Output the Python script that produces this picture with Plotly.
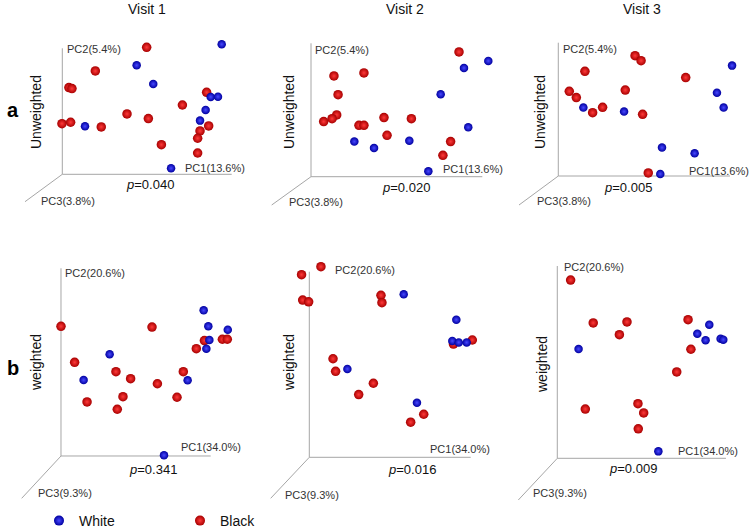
import plotly.graph_objects as go

# ---------------- data (PC1, PC2 scores scaled to 0-100 along drawn axes) ----------------
# Unweighted UniFrac, Visit 1
unw_v1_black_pc1 = [49.8, 19.5, 3.9, 5.7, 85.2, 70.9, 38.2, 50.8, -0.2, 4.9, 23.0, 86.4, 81.3, 79.9, 58.5, 79.9]
unw_v1_black_pc2 = [100.8, 82.0, 68.8, 68.0, 65.1, 55.0, 47.9, 44.2, 40.2, 41.3, 37.6, 38.4, 34.4, 28.6, 23.5, 16.9]
unw_v1_white_pc1 = [94.1, 43.9, 53.7, 87.6, 91.9, 84.6, 81.3, 13.4, 64.2]
unw_v1_white_pc2 = [103.2, 86.5, 71.7, 61.4, 61.6, 51.1, 42.6, 38.1, 4.8]
# Unweighted, Visit 2
unw_v2_black_pc1 = [86.4, 13.4, 30.9, 15.8, 15.0, 12.3, 7.4, 42.6, 58.6, 28.0, 30.9, 44.4, 81.5, 77.0]
unw_v2_black_pc2 = [93.5, 75.5, 77.8, 61.5, 46.3, 43.5, 41.3, 44.3, 43.5, 38.5, 38.5, 31.0, 26.3, 16.0]
unw_v2_white_pc1 = [103.5, 89.3, 75.7, 91.8, 25.3, 36.8, 57.4, 68.5]
unw_v2_white_pc2 = [86.8, 81.5, 61.8, 37.0, 26.3, 21.5, 27.0, 4.0]
# Unweighted, Visit 3
unw_v3_black_pc1 = [44.7, 48.2, 15.5, 74.2, 6.4, 10.5, 39.0, 25.8, 20.0, 49.1, 52.4]
unw_v3_black_pc2 = [90.3, 86.5, 78.5, 73.8, 63.5, 58.8, 64.5, 51.5, 47.5, 46.3, 2.3]
unw_v3_white_pc1 = [101.2, 92.4, 96.3, 14.6, 38.3, 60.4, 79.4, 59.4]
unw_v3_white_pc2 = [82.8, 62.5, 51.3, 51.3, 48.3, 21.3, 17.0, 1.5]
# Weighted UniFrac, Visit 1
w_v1_black_pc1 = [0.0, 60.8, 9.1, 36.7, 46.5, 64.4, 41.4, 17.4, 37.6, 77.5, 81.7, 90.4, 95.8, 107.8, 111.1]
w_v1_black_pc2 = [69.1, 68.7, 49.9, 44.9, 41.2, 38.5, 31.6, 28.8, 24.9, 31.3, 44.9, 57.2, 61.5, 62.2, 62.2]
w_v1_white_pc1 = [95.3, 98.4, 111.4, 99.1, 97.1, 32.5, 15.1, 84.6, 68.8]
w_v1_white_pc2 = [77.6, 69.1, 67.3, 61.8, 57.2, 54.2, 40.5, 40.3, 0.4]
# Weighted, Visit 2
w_v2_black_pc1 = [7.2, -4.8, -4.1, -0.4, 44.4, 45.0, 14.7, 16.3, 39.7, 30.6, 70.9, 62.8, 89.3, 101.0]
w_v2_black_pc2 = [102.7, 98.4, 84.7, 83.8, 87.3, 83.3, 53.1, 46.3, 39.9, 33.8, 23.2, 18.9, 61.0, 63.2]
w_v2_white_pc1 = [58.5, 91.1, 88.6, 92.6, 97.5, 23.6, 66.7]
w_v2_white_pc2 = [87.8, 74.1, 62.7, 61.9, 61.9, 47.6, 29.4]
# Weighted, Visit 3
w_v3_black_pc1 = [7.9, 21.3, 41.3, 36.8, 77.5, 79.2, 70.8, 16.6, 47.8, 51.2, 48.0]
w_v3_black_pc2 = [92.7, 70.4, 70.9, 64.3, 72.1, 56.7, 44.9, 25.6, 28.4, 23.6, 15.3]
w_v3_white_pc1 = [90.1, 83.0, 87.9, 96.8, 98.4, 12.6, 59.9]
w_v3_white_pc2 = [69.5, 64.8, 61.4, 62.2, 61.7, 56.8, 3.6]

visits = ["Visit 1", "Visit 2", "Visit 3"]
p_values = ["0.040", "0.020", "0.005", "0.341", "0.016", "0.009"]
pc_labels_unw = ["PC1(13.6%)", "PC2(5.4%)", "PC3(3.8%)"]
pc_labels_w = ["PC1(34.0%)", "PC2(20.6%)", "PC3(9.3%)"]
groups = ["White", "Black"]

data = [
    (unw_v1_black_pc1, unw_v1_black_pc2, unw_v1_white_pc1, unw_v1_white_pc2),
    (unw_v2_black_pc1, unw_v2_black_pc2, unw_v2_white_pc1, unw_v2_white_pc2),
    (unw_v3_black_pc1, unw_v3_black_pc2, unw_v3_white_pc1, unw_v3_white_pc2),
    (w_v1_black_pc1, w_v1_black_pc2, w_v1_white_pc1, w_v1_white_pc2),
    (w_v2_black_pc1, w_v2_black_pc2, w_v2_white_pc1, w_v2_white_pc2),
    (w_v3_black_pc1, w_v3_black_pc2, w_v3_white_pc1, w_v3_white_pc2),
]

# ---------------- layout geometry (pixels) ----------------
W, H = 750, 528
# (axis corner x, top of PC2 axis, corner y, right end of PC1 axis, PC3 end x, PC3 end y)
geom = [
    (62.3, 48.3, 174.3, 231.7, 25.0, 201.7),
    (311.0, 43.3, 176.7, 482.3, 271.7, 205.0),
    (558.3, 42.7, 176.0, 730.0, 519.0, 205.0),
    (61.0, 268.3, 456.0, 210.7, 21.7, 498.3),
    (309.3, 271.7, 457.3, 470.7, 270.7, 498.3),
    (557.3, 266.0, 458.3, 726.0, 518.3, 500.0),
]
pc1_pos = [(183, 168), (441, 169), (687, 171), (179, 447), (428, 449), (676, 451)]
pc2_pos = [(65, 49), (313, 50), (561, 49), (63, 273), (333, 270), (562, 267)]
pc3_pos = [(39, 201), (287, 202), (535, 201), (36, 493), (283, 495), (531, 493)]
p_pos = [(150, 185), (406, 187), (628, 187), (153, 469), (412, 469), (633, 468)]
side_pos = [(36, 112), (289, 112), (540, 112), (36, 363), (289, 363), (542, 365)]
title_pos = [(147, 9), (405, 9), (642, 9)]

FONT = "Liberation Sans, Arial, sans-serif"
AXCOL = "#a6a6a6"
RED, RED_C = "#a80000", "#ff3a3a"
BLUE, BLUE_C = "#0000a0", "#4848ff"


def px(x, y):
    return x / W, 1 - y / H


fig = go.Figure()
layout = dict(
    width=W, height=H, margin=dict(l=0, r=0, t=0, b=0, pad=0, autoexpand=False),
    paper_bgcolor="white", plot_bgcolor="rgba(0,0,0,0)",
    font=dict(family=FONT, color="#222"),
    showlegend=True,
)
annotations = []
shapes = []

for i, (g, d) in enumerate(zip(geom, data)):
    x0, top, bot, right, p3x, p3y = g
    Lx, Ly = right - x0, bot - top
    # extend ranges so that outlying points are still shown, while 0..100 sits on the drawn axes
    xlo = max(-12.0, -(x0 - 1) / Lx * 100)
    xhi = min(118.0, (W - 1 - x0) / Lx * 100)
    ylo = -8.0
    yhi = 112.0
    n = "" if i == 0 else str(i + 1)
    xa, ya = "x" + n, "y" + n
    axis_common = dict(showline=False, showgrid=False, zeroline=False,
                       showticklabels=False, ticks="", fixedrange=True)
    layout["xaxis" + n] = dict(
        domain=[(x0 + xlo / 100 * Lx) / W, (x0 + xhi / 100 * Lx) / W],
        range=[xlo, xhi], anchor=ya, **axis_common)
    layout["yaxis" + n] = dict(
        domain=[1 - (bot - ylo / 100 * Ly) / H, 1 - (bot - yhi / 100 * Ly) / H],
        range=[ylo, yhi], anchor=xa, **axis_common)
    # PC1 and PC2 axes
    shapes.append(dict(type="line", xref=xa, yref=ya, x0=0, y0=0, x1=100, y1=0,
                       line=dict(color=AXCOL, width=1), layer="below"))
    shapes.append(dict(type="line", xref=xa, yref=ya, x0=0, y0=0, x1=0, y1=100,
                       line=dict(color=AXCOL, width=1), layer="below"))
    # PC3 (depth) axis
    a, b = px(x0, bot)
    c, e = px(p3x, p3y)
    shapes.append(dict(type="line", xref="paper", yref="paper", x0=a, y0=b, x1=c, y1=e,
                       line=dict(color=AXCOL, width=1), layer="below"))

    bx, by, wx, wy = d
    fig.add_trace(go.Scatter(
        x=bx, y=by, xaxis=xa, yaxis=ya, mode="markers", cliponaxis=False,
        showlegend=False, hoverinfo="skip",
        marker=dict(size=9.5, color=RED, line=dict(width=0),
                    gradient=dict(type="radial", color=RED_C)),
    ))
    fig.add_trace(go.Scatter(
        x=wx, y=wy, xaxis=xa, yaxis=ya, mode="markers", cliponaxis=False,
        showlegend=False, hoverinfo="skip",
        marker=dict(size=8.5, color=BLUE, line=dict(width=0),
                    gradient=dict(type="radial", color=BLUE_C)),
    ))

    labels = pc_labels_unw if i < 3 else pc_labels_w
    for txt, pos in zip(labels, [pc1_pos[i], pc2_pos[i], pc3_pos[i]]):
        qx, qy = px(*pos)
        annotations.append(dict(text=txt, x=qx, y=qy, xref="paper", yref="paper",
                                xanchor="left", yanchor="middle", showarrow=False,
                                font=dict(size=11, color="#333")))
    qx, qy = px(*p_pos[i])
    annotations.append(dict(text="<i>p</i>=" + p_values[i], x=qx, y=qy, xref="paper", yref="paper",
                            xanchor="center", yanchor="middle", showarrow=False,
                            font=dict(size=13, color="#111")))
    qx, qy = px(*side_pos[i])
    annotations.append(dict(text="Unweighted" if i < 3 else "weighted", x=qx, y=qy,
                            xref="paper", yref="paper", textangle=-90,
                            xanchor="center", yanchor="middle", showarrow=False,
                            font=dict(size=14, color="#111")))

for t, pos in zip(visits, title_pos):
    qx, qy = px(*pos)
    annotations.append(dict(text=t, x=qx, y=qy, xref="paper", yref="paper",
                            xanchor="center", yanchor="middle", showarrow=False,
                            font=dict(size=14, color="#111")))
for t, pos in zip(["a", "b"], [(13, 110), (13, 368)]):
    qx, qy = px(*pos)
    annotations.append(dict(text="<b>" + t + "</b>", x=qx, y=qy, xref="paper", yref="paper",
                            xanchor="center", yanchor="middle", showarrow=False,
                            font=dict(size=20, color="#000")))

# legend entries
fig.add_trace(go.Scatter(x=[None], y=[None], mode="markers", name=groups[0],
                         marker=dict(size=10, color=BLUE, gradient=dict(type="radial", color=BLUE_C))))
fig.add_trace(go.Scatter(x=[None], y=[None], mode="markers", name=groups[1],
                         marker=dict(size=10, color=RED, gradient=dict(type="radial", color=RED_C))))

lx, ly = px(39, 521)
layout["legend"] = dict(orientation="h", x=lx, y=ly, xanchor="left", yanchor="middle",
                        entrywidth=96, entrywidthmode="pixels",
                        font=dict(size=14, color="#111"), bgcolor="rgba(0,0,0,0)")
layout["annotations"] = annotations
layout["shapes"] = shapes
fig.update_layout(**layout)
fig.write_html("out.html", config={"displayModeBar": False},
               post_script="document.body.style.margin='0px';")
